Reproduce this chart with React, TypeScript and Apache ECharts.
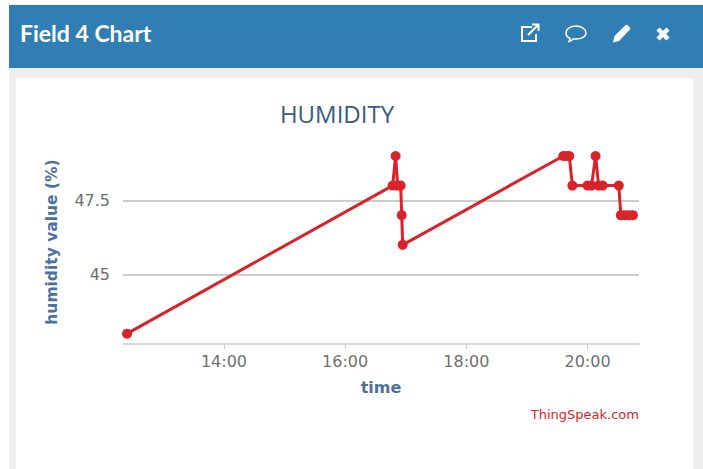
import React, { useEffect, useRef } from "react";
import * as echarts from "echarts";

const times = ["12:24","16:47","16:50","16:52","16:55","16:56","16:57","19:36","19:39","19:42","19:45","20:00","20:04","20:08","20:11","20:15","20:31","20:33","20:37","20:41","20:45"];
const values = [43,48,49,48,48,47,46,49,49,49,48,48,48,49,48,48,48,47,47,47,47];
const xTickLabels = ["14:00","16:00","18:00","20:00"];
const yTicks = [45, 47.5];

const toMin = (s: string) => { const [h, m] = s.split(":").map(Number); return h * 60 + m; };
const pad = (n: number) => String(n).padStart(2, "0");

echarts.graphic.registerShape("iconExt", echarts.graphic.extendPath("M12 3H2v14h14V10M8 11L18 1M12 0.500h6.500v6.500", {}));
echarts.graphic.registerShape("iconChat", echarts.graphic.extendPath("M10 1C4.5 1 0 4 0 8c0 2.500 2 4.500 4 5.500 0 1-.5 2.200-1 3 2-.4 3.200-1.500 4.200-2.600 1 .1 1.800.1 2.800.1 5.500 0 10-2.500 10-6S15.500 1 10 1z", {}));
echarts.graphic.registerShape("iconPen", echarts.graphic.extendPath("M13 1.500c1-1 2-1 3 0l1.500 1.500c1 1 1 2 0 3L7 17l-6 1.500L2.500 12z", {}));
echarts.graphic.registerShape("iconX", echarts.graphic.extendPath("M2 2L12 12M12 2L2 12", {}));

export default function App() {
  const ref = useRef<HTMLDivElement>(null);
  useEffect(() => {
    const chart = echarts.init(ref.current!, undefined, { renderer: "svg" });
    const panel = "#eeeeee";
    const blue = "#307eb3";
    const font = "'DejaVu Sans', sans-serif";
    chart.setOption({
      animation: false,
      backgroundColor: "#ffffff",
      title: {
        text: "HUMIDITY",
        left: 332,
        top: 96,
        textAlign: "center",
        textStyle: { color: "#3a5a80", fontSize: 24, fontWeight: "normal", fontFamily: "'Open Sans', sans-serif" },
      },
      grid: { left: 123, top: 140, width: 516, height: 204 },
      xAxis: {
        type: "value",
        min: toMin("12:20"),
        max: toMin("20:51"),
        name: "time",
        nameLocation: "middle",
        nameGap: 35,
        nameTextStyle: { color: "#4a72a0", fontSize: 16, fontWeight: "bold", fontFamily: font },
        axisLine: { show: true, lineStyle: { color: "#c0d0e0", width: 1.5 } },
        axisTick: { show: true, length: 5, lineStyle: { color: "#c0d0e0" }, customValues: xTickLabels.map(toMin) },
        axisLabel: {
          color: "#6f6f6f",
          fontSize: 16,
          fontFamily: font,
          margin: 9,
          customValues: xTickLabels.map(toMin),
          formatter: (v: number) => `${pad(Math.floor(v / 60))}:${pad(v % 60)}`,
        },
        splitLine: { show: false },
      },
      yAxis: {
        type: "value",
        min: 42.65,
        max: 49.54,
        name: "humidity value (%)",
        nameLocation: "middle",
        nameGap: 63,
        nameTextStyle: { color: "#4a72a0", fontSize: 15.5, fontWeight: "bold", fontFamily: font },
        axisLine: { show: false },
        axisTick: { show: false, customValues: yTicks },
        axisLabel: { color: "#6f6f6f", fontSize: 16, fontFamily: font, margin: 13, customValues: yTicks, formatter: (v: number) => String(v) },
        splitLine: { show: true, lineStyle: { color: "#cccccc", width: 2 } },
      },
      graphic: [
        { type: "rect", z: -10, shape: { x: 9, y: 4, width: 694, height: 465 }, style: { fill: panel } },
        { type: "rect", z: -9, shape: { x: 9, y: 5, width: 694, height: 63 }, style: { fill: blue } },
        { type: "rect", z: -9, shape: { x: 16, y: 78, width: 677, height: 391 }, style: { fill: "#ffffff" } },
        { type: "text", x: 20, y: 33, style: { text: "Field 4 Chart", fill: "#ffffff", font: "bold 23px Lato, sans-serif", textVerticalAlign: "middle" } },
        { type: "iconExt", x: 520, y: 24, style: { fill: "none", stroke: "#ffffff", lineWidth: 2 } },
        { type: "iconChat", x: 566, y: 25, style: { fill: "none", stroke: "#ffffff", lineWidth: 1.5 } },
        { type: "iconPen", x: 612, y: 24, style: { fill: "#ffffff" } },
        { type: "iconX", x: 656, y: 27, style: { fill: "none", stroke: "#ffffff", lineWidth: 4.5 } },
        { type: "text", x: 639, y: 414, style: { text: "ThingSpeak.com", fill: "#d9232a", font: "13px 'DejaVu Sans', sans-serif", textAlign: "right", textVerticalAlign: "middle" } },
      ],
      series: [
        {
          type: "line",
          data: times.map((t, i) => [toMin(t), values[i]]),
          showSymbol: true,
          symbol: "circle",
          symbolSize: 10,
          clip: false,
          lineStyle: { color: "#d9232a", width: 3 },
          itemStyle: { color: "#d9232a" },
        },
      ],
    });
    return () => chart.dispose();
  }, []);
  return <div ref={ref} style={{ position: "fixed", left: 0, top: 0, width: 703, height: 469 }} />;
}
